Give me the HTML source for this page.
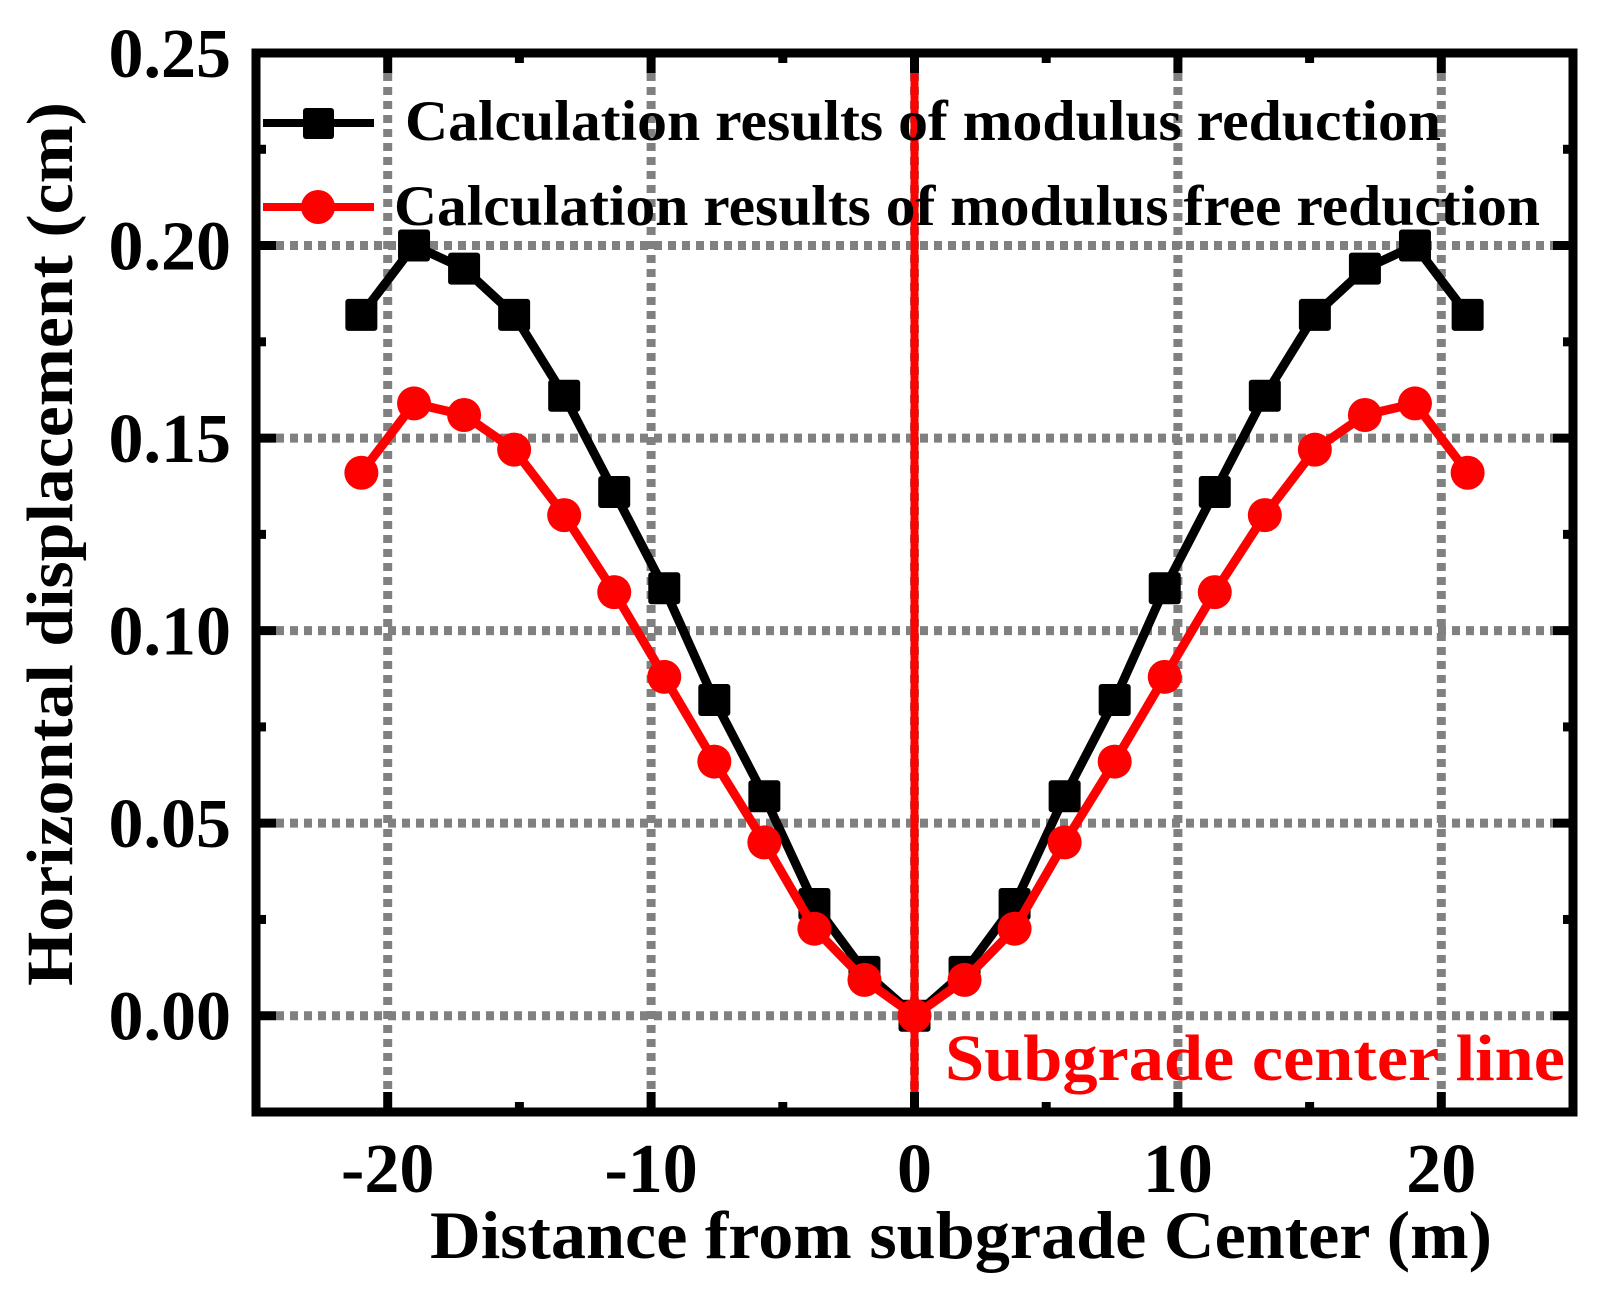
<!DOCTYPE html>
<html><head><meta charset="utf-8"><style>
html,body{margin:0;padding:0;background:#fff;}
svg{display:block;font-family:"Liberation Serif",serif;font-weight:bold;}
</style></head><body>
<svg id="chart" width="1600" height="1289" viewBox="0 0 1600 1289">
<g id="grid"></g>
<g id="series"></g>
<g id="frame"></g>
<g id="labels"></g>
<g>
  <line x1="263" y1="123" x2="374" y2="123" stroke="#000" stroke-width="8"/>
  <rect x="303" y="108" width="31" height="31" rx="3" fill="#000"/>
  <text x="405" y="140" font-size="57" textLength="1036" lengthAdjust="spacingAndGlyphs">Calculation results of modulus reduction</text>
  <line x1="263" y1="207" x2="374" y2="207" stroke="#f00" stroke-width="8"/>
  <circle cx="318" cy="207" r="17" fill="#f00"/>
  <text x="394" y="225" font-size="57" textLength="1146" lengthAdjust="spacingAndGlyphs">Calculation results of modulus free reduction</text>
</g>
<text x="945" y="1080" font-size="66" fill="#f00" textLength="620" lengthAdjust="spacingAndGlyphs">Subgrade center line</text>
<text x="961" y="1258" font-size="68" text-anchor="middle" textLength="1062" lengthAdjust="spacingAndGlyphs">Distance from subgrade Center (m)</text>
<text transform="translate(72,544) rotate(-90)" font-size="66" text-anchor="middle" textLength="884" lengthAdjust="spacingAndGlyphs">Horizontal displacement (cm)</text>
</svg>
<script>
const xs = [-21,-19,-17.1,-15.2,-13.3,-11.4,-9.5,-7.6,-5.7,-3.8,-1.9,0,1.9,3.8,5.7,7.6,9.5,11.4,13.3,15.2,17.1,19,21];
const reductionVals = [0.182,0.200,0.194,0.182,0.161,0.136,0.111,0.082,0.057,0.029,0.0114,0,0.0114,0.029,0.057,0.082,0.111,0.136,0.161,0.182,0.194,0.200,0.182];
const freeVals = [0.141,0.159,0.156,0.147,0.130,0.110,0.088,0.066,0.045,0.0226,0.0093,0,0.0093,0.0226,0.045,0.066,0.088,0.110,0.130,0.147,0.156,0.159,0.141];
const xTicks = [-20,-10,0,10,20];
const xTickLabels = ["-20","-10","0","10","20"];
const xMinor = [-15,-5,5,15];
const yTicks = [0,0.05,0.10,0.15,0.20,0.25];
const yTickLabels = ["0.00","0.05","0.10","0.15","0.20","0.25"];
const yMinor = [-0.025,0.025,0.075,0.125,0.175,0.225];

const L=256,R=1573,T=53,B=1112,XMIN=-25,XMAX=25,YMIN=-0.025,YMAX=0.25;
const sx=v=>L+(v-XMIN)/(XMAX-XMIN)*(R-L);
const sy=v=>B-(v-YMIN)/(YMAX-YMIN)*(B-T);
const NS="http://www.w3.org/2000/svg";
function mk(tag,attrs,parent){const e=document.createElementNS(NS,tag);for(const k in attrs)e.setAttribute(k,attrs[k]);parent.appendChild(e);return e;}
const grid=document.getElementById('grid'),series=document.getElementById('series'),frame=document.getElementById('frame'),labels=document.getElementById('labels');

xTicks.forEach(v=>{const e=mk('line',{x1:sx(v),x2:sx(v),y1:T+20,y2:B-20,stroke:'#808080','stroke-width':9,'stroke-dasharray':'8 6'},grid);

});
yTicks.forEach(v=>{if(v>=YMAX)return;const e=mk('line',{x1:L+20,x2:R-20,y1:sy(v),y2:sy(v),stroke:'#808080','stroke-width':9,'stroke-dasharray':'8 6'},grid);

});

const cl=mk('line',{x1:sx(0),x2:sx(0),y1:T,y2:B,stroke:'#f00','stroke-width':8},series);



function drawSeries(vals,color,shape,name){
  const pts=xs.map((x,i)=>sx(x)+','+sy(vals[i])).join(' ');
  const pl=mk('polyline',{points:pts,fill:'none',stroke:color,'stroke-width':9,'stroke-linejoin':'round'},series);
  
  
  xs.forEach((x,i)=>{
    let m;
    if(shape==='sq') m=mk('rect',{x:sx(x)-16,y:sy(vals[i])-16,width:32,height:32,rx:3,fill:color},series);
    else m=mk('circle',{cx:sx(x),cy:sy(vals[i]),r:17,fill:color},series);
    
    
  });
}
drawSeries(reductionVals,'#000','sq','reduction');
drawSeries(freeVals,'#f00','ci','free-reduction');

const fr=mk('rect',{x:L,y:T,width:R-L,height:B-T,fill:'none',stroke:'#000','stroke-width':9},frame);


function tick(x1,y1,x2,y2){const t=mk('line',{x1,y1,x2,y2,stroke:'#000','stroke-width':9},frame);

}
xTicks.forEach(v=>{tick(sx(v),B,sx(v),B-20);tick(sx(v),T,sx(v),T+20);});
xMinor.forEach(v=>{tick(sx(v),B,sx(v),B-10);tick(sx(v),T,sx(v),T+10);});
yTicks.forEach(v=>{tick(L,sy(v),L+20,sy(v));tick(R,sy(v),R-20,sy(v));});
yMinor.forEach(v=>{tick(L,sy(v),L+10,sy(v));tick(R,sy(v),R-10,sy(v));});

xTicks.forEach((v,i)=>{const t=mk('text',{x:sx(v),y:1192,'font-size':70,'text-anchor':'middle'},labels);t.textContent=xTickLabels[i];

});
yTicks.forEach((v,i)=>{const t=mk('text',{x:231,y:sy(v)+24,'font-size':70,'text-anchor':'end'},labels);t.textContent=yTickLabels[i];

});
</script>
</body></html>
